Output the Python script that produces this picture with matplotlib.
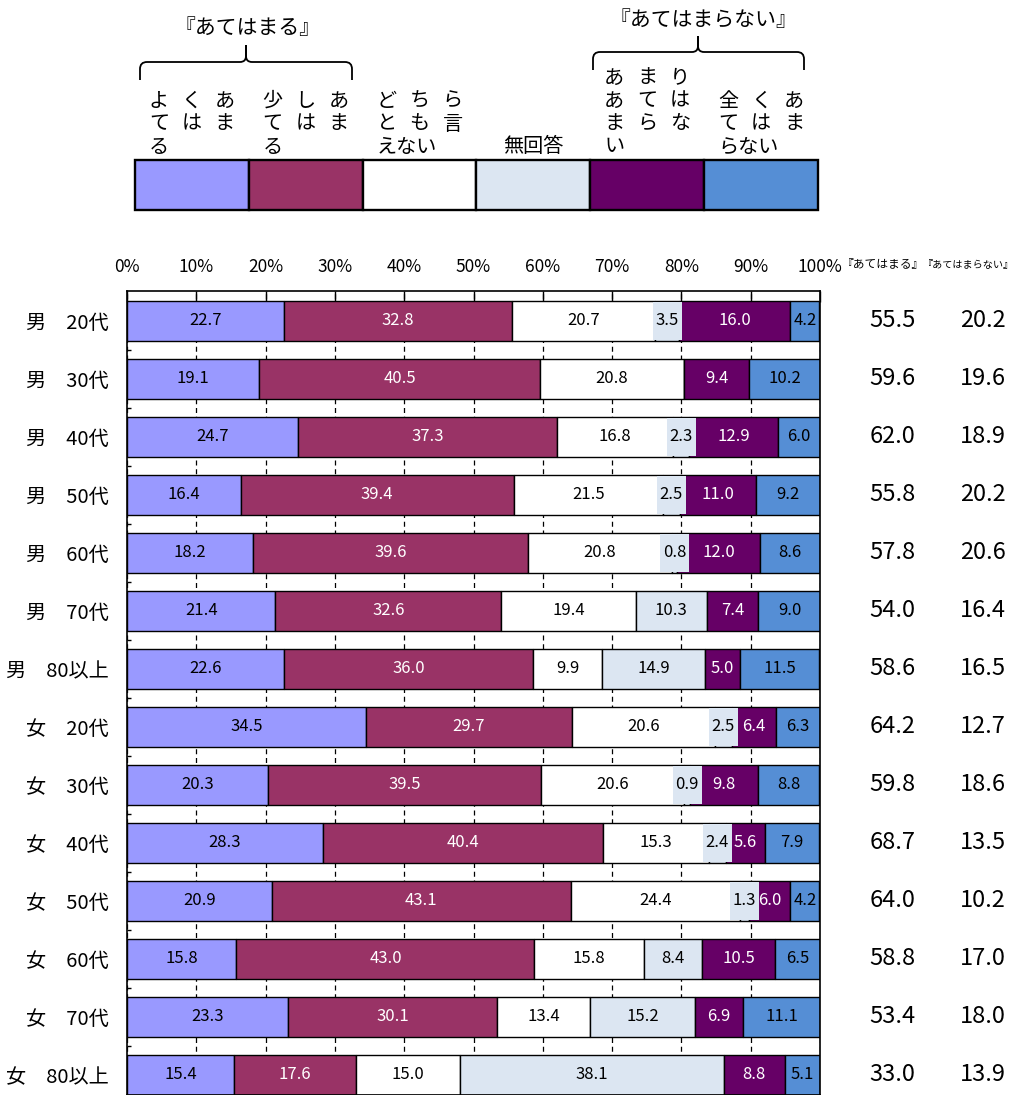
import matplotlib
matplotlib.use('Agg')
import matplotlib.pyplot as plt
from matplotlib import font_manager
from matplotlib.path import Path
from matplotlib.patches import PathPatch, Rectangle
import numpy as np

# ---- data ----
GROUPS = ['男　20代', '男　30代', '男　40代', '男　50代', '男　60代', '男　70代', '男　80以上',
          '女　20代', '女　30代', '女　40代', '女　50代', '女　60代', '女　70代', '女　80以上']
SERIES = ['よくあてはまる', '少しあてはまる', 'どちらとも言えない', '無回答',
          'あまりあてはまらない', '全くあてはまらない']
YOKU = [22.7, 19.1, 24.7, 16.4, 18.2, 21.4, 22.6, 34.5, 20.3, 28.3, 20.9, 15.8, 23.3, 15.4]
SUKOSHI = [32.8, 40.5, 37.3, 39.4, 39.6, 32.6, 36.0, 29.7, 39.5, 40.4, 43.1, 43.0, 30.1, 17.6]
DOCHIRA = [20.7, 20.8, 16.8, 21.5, 20.8, 19.4, 9.9, 20.6, 20.6, 15.3, 24.4, 15.8, 13.4, 15.0]
MUKAITO = [3.5, 0.0, 2.3, 2.5, 0.8, 10.3, 14.9, 2.5, 0.9, 2.4, 1.3, 8.4, 15.2, 38.1]
AMARI = [16.0, 9.4, 12.9, 11.0, 12.0, 7.4, 5.0, 6.4, 9.8, 5.6, 6.0, 10.5, 6.9, 8.8]
MATTAKU = [4.2, 10.2, 6.0, 9.2, 8.6, 9.0, 11.5, 6.3, 8.8, 7.9, 4.2, 6.5, 11.1, 5.1]
ATEHAMARU = [55.5, 59.6, 62.0, 55.8, 57.8, 54.0, 58.6, 64.2, 59.8, 68.7, 64.0, 58.8, 53.4, 33.0]
ATEHAMARANAI = [20.2, 19.6, 18.9, 20.2, 20.6, 16.4, 16.5, 12.7, 18.6, 13.5, 10.2, 17.0, 18.0, 13.9]
XTICKS = [0, 10, 20, 30, 40, 50, 60, 70, 80, 90, 100]

COLORS = ['#9999FF', '#993366', '#FFFFFF', '#DCE6F2', '#660066', '#558ED5']
TEXT_COLORS = ['black', 'white', 'black', 'black', 'white', 'black']
LEGEND_LINES = [['よくあ', 'てはま', 'る'], ['少しあ', 'てはま', 'る'],
                ['どちら', 'とも言', 'えない'], ['無回答'],
                ['あまり', 'あては', 'まらな', 'い'], ['全くあ', 'てはま', 'らない']]

# ---- fonts ----
plt.rcParams['font.family'] = ['Noto Sans CJK JP', 'DejaVu Sans']
installed = {f.name for f in font_manager.fontManager.ttflist}
if 'Liberation Sans Narrow' in installed:
    NUM = ['Liberation Sans Narrow', 'Noto Sans CJK JP']
else:
    NUM = ['Noto Sans CJK JP', 'DejaVu Sans']

W, H = 1015, 1095
fig = plt.figure(figsize=(W / 100, H / 100), dpi=100)

# ---- main chart ----
ax = fig.add_axes([127 / W, 0, (820 - 127) / W, (1095 - 291) / H])
y = np.arange(len(GROUPS))
left = np.zeros(len(GROUPS))
series_values = [YOKU, SUKOSHI, DOCHIRA, MUKAITO, AMARI, MATTAKU]
for i, vals in enumerate(series_values):
    vals = np.array(vals)
    ax.barh(y, vals, left=left, height=0.69, color=COLORS[i],
            edgecolor='black', linewidth=1.0, zorder=2)
    for yy, l, v in zip(y, left, vals):
        if v <= 0:
            continue
        cx = l + v / 2
        if i == 3 and v < 4.2:
            # label background wider than the thin segment
            ax.add_patch(Rectangle((cx - 2.1, yy - 0.33), 4.2, 0.66,
                                   facecolor=COLORS[3], edgecolor='none', zorder=3))
        ax.text(cx, yy, f'{v:.1f}', ha='center', va='center', color=TEXT_COLORS[i],
                fontsize=12, family=NUM, zorder=4)
    left += vals

# summary columns on the right
for yy, a, b in zip(y, ATEHAMARU, ATEHAMARANAI):
    ax.text(110.5, yy, f'{a:.1f}', ha='center', va='center', fontsize=17,
            family=NUM, clip_on=False)
    ax.text(123.5, yy, f'{b:.1f}', ha='center', va='center', fontsize=17,
            family=NUM, clip_on=False)

ax.set_xlim(0, 100)
ax.set_ylim(13.345, -0.517)
ax.set_xticks(XTICKS)
ax.set_xticklabels([f'{t}%' for t in XTICKS], family=NUM, fontsize=12.5)
ax.xaxis.tick_top()
ax.tick_params(axis='x', top=True, bottom=False, direction='in', length=8,
               width=1, pad=11, colors='black')
ax.set_yticks(y)
ax.set_yticklabels(GROUPS, fontsize=14.5)
ax.tick_params(axis='y', which='major', length=0, pad=13)
ax.set_yticks(y[:-1] + 0.5, minor=True)
ax.tick_params(axis='y', which='minor', direction='in', length=3, width=1)
ax.xaxis.grid(True, linestyle=(0, (4, 3)), color='black', linewidth=0.9)
ax.set_axisbelow(True)
for s in ax.spines.values():
    s.set_linewidth(1.2)
    s.set_color('black')

fig.text(842 / W, 1 - 265 / H, '『あてはまる』', ha='left', va='center', fontsize=8.5)
fig.text(1014 / W, 1 - 265 / H, '『あてはまらない』', ha='right', va='center', fontsize=7.3)

# ---- legend (pixel coordinates) ----
lg = fig.add_axes([0, 0, 1, 1], zorder=-1)
lg.set_xlim(0, W)
lg.set_ylim(H, 0)
lg.axis('off')

box_w = (818 - 135) / len(SERIES)
for i, lines in enumerate(LEGEND_LINES):
    bx = 135 + i * box_w
    lg.add_patch(Rectangle((bx, 160), box_w, 50, facecolor=COLORS[i],
                           edgecolor='black', linewidth=1.7))
    n = len(lines)
    if n == 1:
        lg.text(bx + box_w / 2, 147, lines[0], ha='center', va='center', fontsize=14.5)
        continue
    x0 = bx + (box_w - 86) / 2
    for k, line in enumerate(lines):
        yc = 147 - 23 * (n - 1 - k)
        if k == n - 1:
            lg.text(x0, yc, line, ha='left', va='center', fontsize=14.5)
        else:
            for j, ch in enumerate(line):
                lg.text(x0 + 10 + j * 33, yc, ch, ha='center', va='center', fontsize=14.5)


def brace(x0, x1, xc, ym, yb, yt):
    verts = [(x0, yb), (x0, ym + 7), (x0, ym), (x0 + 7, ym), (xc - 6, ym),
             (xc, ym), (xc, ym - 6), (xc, yt), (xc, ym - 6), (xc, ym), (xc + 6, ym),
             (x1 - 7, ym), (x1, ym), (x1, ym + 7), (x1, yb)]
    codes = [Path.MOVETO, Path.LINETO, Path.CURVE3, Path.CURVE3, Path.LINETO,
             Path.CURVE3, Path.CURVE3, Path.LINETO, Path.LINETO, Path.CURVE3, Path.CURVE3,
             Path.LINETO, Path.CURVE3, Path.CURVE3, Path.LINETO]
    lg.add_patch(PathPatch(Path(verts, codes), facecolor='none', edgecolor='black',
                           linewidth=1.3))


brace(140, 352, 246, 62, 80, 45)
brace(593, 804, 698, 52, 70, 36)
lg.text(248, 28, '『あてはまる』', ha='center', va='center', fontsize=15)
lg.text(703, 20, '『あてはまらない』', ha='center', va='center', fontsize=15)

fig.savefig('out.png', dpi=100)
